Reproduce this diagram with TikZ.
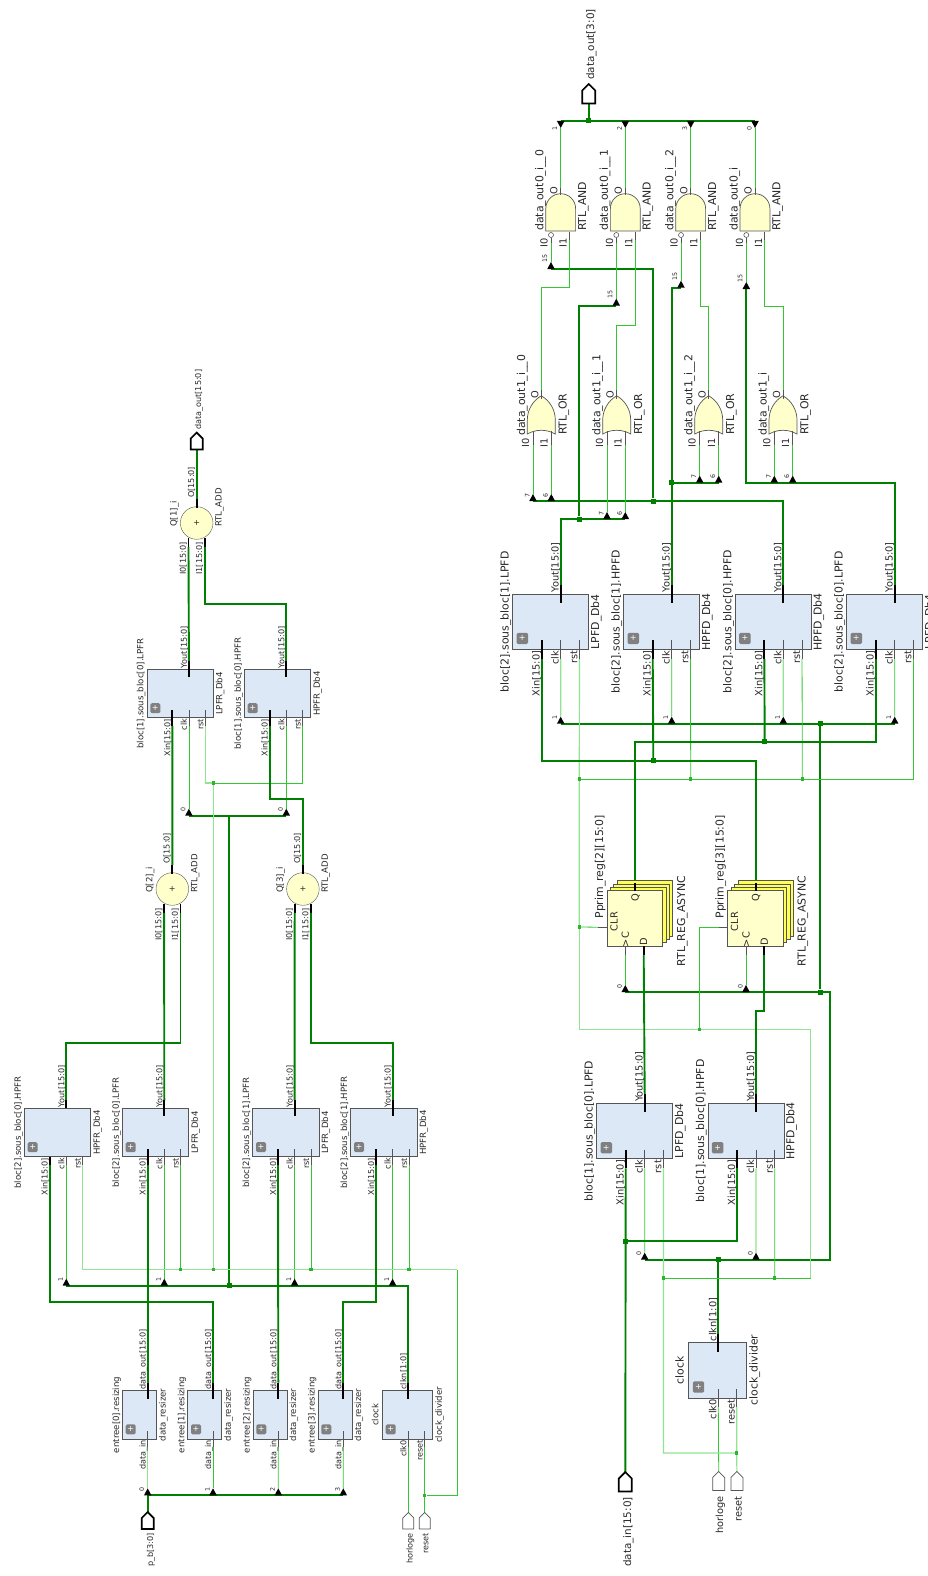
\documentclass[tikz,border=0pt]{standalone}
\usepackage{fontspec}
\setmainfont{DejaVu Sans}
\usetikzlibrary{calc,backgrounds,positioning,shapes,shapes.gates.logic.US}
\definecolor{BusGreen}{RGB}{0,128,0}
\definecolor{NetGreen}{RGB}{50,200,50}
\definecolor{PaleGreen}{RGB}{145,228,145}
\definecolor{BlockBlue}{RGB}{221,232,247}
\definecolor{CellYellow}{RGB}{255,255,204}
\definecolor{StackYellow}{RGB}{255,255,90}
\definecolor{EdgeGray}{RGB}{85,85,85}
\definecolor{TextGray}{RGB}{40,40,40}

\newcommand{\filterblock}[6]{%
	\node [ipblock,minimum width=\sk*66.5,minimum height=\sk*48.5] (#1) at (#2,#3) {};
	\node [plusicon,minimum size=\sk*10] (#1-plus) at ($(#1.south west)+(\sk*8.4,-\sk*9.6)$) {+};
	\coordinate (#1-yout) at ($(#1.north west)+(\sk*42,-\sk*8)$);
	\coordinate (#1-xin) at ($(#1.south west)+(\sk*25.4,\sk*8.4)$);
	\coordinate (#1-clk) at ($(#1.south west)+(\sk*42,\sk*8.4)$);
	\coordinate (#1-rst) at ($(#1.south west)+(\sk*58.4,\sk*8.4)$);
	\draw[busstub] (#1-yout) -- ++(0,{\sk*(8+#6)});
	\draw[busstub] (#1-xin) -- ++(0,{-\sk*(8.4+#6)});
	\draw[netstub] (#1-clk) -- ++(0,{-\sk*(8.4+#6)});
	\draw[netstub] (#1-rst) -- ++(0,{-\sk*(8.4+#6)});
	\node [pinlabel,anchor=base west] (#1-yout-lbl) at ($(#1-yout)+(-2,\sk*7)$) {Yout[15:0]};
	\node [pinlabel,anchor=base east] (#1-xin-lbl) at ($(#1-xin)+(-2,-\sk*7.4)$) {Xin[15:0]};
	\node [pinlabel,anchor=base east] (#1-clk-lbl) at ($(#1-clk)+(-2,-\sk*7.4)$) {clk};
	\node [pinlabel,anchor=base east] (#1-rst-lbl) at ($(#1-rst)+(-2,-\sk*7.4)$) {rst};
	\node [namelabel,anchor=base] (#1-name) at ($(#1.west)+(-\sk*3.5,0)$) {#4};
	\node [namelabel,anchor=base] (#1-type) at ($(#1.east)+(\sk*9,0)$) {#5};
}

\begin{document}
\begin{tikzpicture} [x=1pt,y=-1pt,
	   buswire/.style = {draw=BusGreen,line width=1.9pt},
	   netwire/.style = {draw=NetGreen,line width=0.8pt},
	   palewire/.style = {draw=PaleGreen,line width=1.2pt},
	   busstub/.style = {draw=black,line width=1.9pt},
	   netstub/.style = {draw=EdgeGray,line width=0.8pt},
	   busdot/.style = {rectangle,fill=BusGreen,minimum size=5pt,inner sep=0pt},
	   netdot/.style = {rectangle,fill=NetGreen!90!black,minimum size=3.2pt,inner sep=0pt},
	   ipblock/.style = {rectangle,draw=EdgeGray,fill=BlockBlue,line width=0.8pt,anchor=north west,inner sep=0pt,outer sep=0pt},
	   plusicon/.style = {rectangle,rounded corners=1.5pt,fill=gray,text=white,inner sep=0pt,font=\fontsize{8}{8}\selectfont},
	   pinlabel/.style = {rotate=90,inner sep=0pt,text=TextGray,font=\fontsize{\pinsize}{\pinsize}\selectfont},
	   namelabel/.style = {rotate=90,inner sep=0pt,text=TextGray,font=\fontsize{\namesize}{\namesize}\selectfont},
	   bitlabel/.style = {rotate=90,inner sep=0pt,text=TextGray,font=\fontsize{6.3}{6.3}\selectfont},
	   tapup/.style = {isosceles triangle,shape border rotate=90,isosceles triangle stretches,fill=black,minimum width=7.5pt,minimum height=7pt,inner sep=0pt,outer sep=0pt,anchor=lower side},
	   tapdown/.style = {isosceles triangle,shape border rotate=-90,isosceles triangle stretches,fill=black,minimum width=7.5pt,minimum height=7pt,inner sep=0pt,outer sep=0pt,anchor=lower side},
	   adder/.style = {circle,draw=EdgeGray,fill=CellYellow,minimum size=32.6pt,inner sep=0pt,outer sep=0pt,text=TextGray,font=\fontsize{8}{8}\selectfont},
	   busport/.style = {signal,signal to=north,draw=black,fill=white,line width=1.7pt,minimum width=#1,minimum height=11pt,inner sep=0pt,outer sep=0pt},
	   netport/.style = {signal,signal to=north,draw=EdgeGray,fill=white,line width=0.7pt,minimum width=#1,minimum height=11pt,inner sep=0pt,outer sep=0pt},
	   andcell/.style = {and gate US,logic gate inputs=nn,rotate=90,draw=EdgeGray,fill=CellYellow,line width=0.7pt,minimum height=28pt,minimum width=37.3pt,inner sep=0pt,outer sep=0pt},
	   bubble/.style = {circle,draw=EdgeGray,fill=white,line width=0.6pt,minimum size=5pt,inner sep=0pt,outer sep=0pt},
	   orcell/.style = {or gate US,logic gate inputs=nn,rotate=90,draw=EdgeGray,fill=CellYellow,line width=0.7pt,minimum height=28pt,minimum width=37pt,inner sep=0pt,outer sep=0pt},
	   regcell/.style = {rectangle,draw=EdgeGray,line width=0.7pt,minimum size=55.5pt,anchor=north west,inner sep=0pt,outer sep=0pt}]
	\useasboundingbox (0,0) rectangle (927,1576);

	%% Left picture: labels are smaller here
	\def\sk{1}\def\pinsize{8.1}\def\namesize{8.6}

	%% Filters
	\filterblock{hpfr20}{24.3}{1108.3}{bloc[2].sous\_bloc[0].HPFR}{HPFR\_Db4}{0}
	\filterblock{lpfr20}{122.3}{1108.3}{bloc[2].sous\_bloc[0].LPFR}{LPFR\_Db4}{8}
	\filterblock{lpfr21}{252.6}{1108.3}{bloc[2].sous\_bloc[1].LPFR}{LPFR\_Db4}{8}
	\filterblock{hpfr21}{350.6}{1108.3}{bloc[2].sous\_bloc[1].HPFR}{HPFR\_Db4}{8}
	\filterblock{lpfr10}{146.9}{669.3}{bloc[1].sous\_bloc[0].LPFR}{LPFR\_Db4}{8}
	\filterblock{hpfr10}{244.3}{669.3}{bloc[1].sous\_bloc[0].HPFR}{HPFR\_Db4}{8}

	%% Input resizers
	\foreach \nm/\x/\txt in {entree0/122.3/entree[0].resizing,entree1/187.6/entree[1].resizing,
	                         entree2/252.9/entree[2].resizing,entree3/317.9/entree[3].resizing} {
		\node [ipblock,minimum width=34,minimum height=48.3] (\nm) at (\x,1390.7) {};
		\node [plusicon,minimum size=10] (\nm-plus) at ($(\nm.south west)+(8.4,-9.6)$) {+};
		\coordinate (\nm-out) at ($(\nm.north west)+(25.4,-8)$);
		\coordinate (\nm-in) at ($(\nm.south west)+(25.4,8)$);
		\draw[busstub] (\nm-out) -- ++(0,16);
		\draw[netstub] (\nm-in) -- ++(0,-16);
		\node [pinlabel,anchor=base west] (\nm-out-lbl) at ($(\nm-out)+(-2,7)$) {data\_out[15:0]};
		\node [pinlabel,anchor=base east] (\nm-in-lbl) at ($(\nm-in)+(-2,-7)$) {data\_in};
		\node [namelabel,anchor=base] (\nm-name) at ($(\nm.west)+(-3.2,0)$) {\txt};
		\node [namelabel,anchor=base] (\nm-type) at ($(\nm.east)+(9.2,0)$) {data\_resizer};
	}

	%% Clock divider
	\node [ipblock,minimum width=50.4,minimum height=48.3] (clkl) at (382.3,1390.7) {};
	\node [plusicon,minimum size=10] (clkl-plus) at ($(clkl.south west)+(8.4,-9.6)$) {+};
	\coordinate (clkl-clkn) at ($(clkl.north west)+(26,-8)$);
	\coordinate (clkl-clk0) at ($(clkl.south west)+(26,8)$);
	\coordinate (clkl-reset) at ($(clkl.south west)+(42.4,8)$);
	\draw[busstub] (clkl-clkn) -- ++(0,16);
	\draw[netstub] (clkl-clk0) -- ++(0,-16);
	\draw[netstub] (clkl-reset) -- ++(0,-16);
	\node [pinlabel,anchor=base west] (clkl-clkn-lbl) at ($(clkl-clkn)+(-2,7)$) {clkn[1:0]};
	\node [pinlabel,anchor=base east] (clkl-clk0-lbl) at ($(clkl-clk0)+(-2,-7)$) {clk0};
	\node [pinlabel,anchor=base east] (clkl-reset-lbl) at ($(clkl-reset)+(-2,-7)$) {reset};
	\node [namelabel,anchor=base] (clkl-name) at ($(clkl.west)+(-4,0)$) {clock};
	\node [namelabel,anchor=base] (clkl-type) at ($(clkl.east)+(9.2,0)$) {clock\_divider};

	%% Adders
	\foreach \nm/\x/\y/\txt in {addq2/172.3/889/Q[2]\_i,addq3/302.9/889/Q[3]\_i,addq1/196.7/523/Q[1]\_i} {
		\node [adder] (\nm) at (\x,\y) {+};
		\coordinate (\nm-o) at ($(\nm)+(0,-24)$);
		\coordinate (\nm-i0) at ($(\nm)+(-8.2,24)$);
		\coordinate (\nm-i1) at ($(\nm)+(8.2,24)$);
		\draw[busstub] (\nm-o) -- ++(0,8.5);
		\draw[busstub] (\nm-i0) -- ++(0,-9);
		\draw[busstub] (\nm-i1) -- ++(0,-9);
		\node [pinlabel,anchor=base west] (\nm-o-lbl) at ($(\nm-o)+(-2.7,-1)$) {O[15:0]};
		\node [pinlabel,anchor=base east] (\nm-i0-lbl) at ($(\nm-i0)+(-2.7,-4.7)$) {I0[15:0]};
		\node [pinlabel,anchor=base east] (\nm-i1-lbl) at ($(\nm-i1)+(-2.7,-4.7)$) {I1[15:0]};
		\node [namelabel,anchor=base west] (\nm-name) at ($(\nm)+(-20,4)$) {\txt};
		\node [namelabel,anchor=base west] (\nm-type) at ($(\nm)+(25,4)$) {RTL\_ADD};
	}

	%% Bus taps
	\foreach \nm/\x/\y/\bit in {clkl0/66.3/1285.7/1,clkl1/164.3/1285.7/1,clkl2/294.6/1285.7/1,clkl3/392.6/1285.7/1,
	                            clku0/188.9/815.7/0,clku1/286.3/815.7/0,
	                            sel0/147.7/1495.3/0,sel1/213/1495.3/1,sel2/278.3/1495.3/2,sel3/343.3/1495.3/3} {
		\node [tapup] (\nm) at (\x,\y) {};
		\node [bitlabel,anchor=base] (\nm-bit) at ($(\nm.lower side)+(-3.5,-6)$) {\bit};
	}

	%% Ports
	\node [busport=12pt] (pb) at (147.7,1523.5) {};
	\node [pinlabel,anchor=base east] (pb-lbl) at (153,1533) {p\_b[3:0]};
	\node [netport=11pt] (horlogel) at (408.3,1523.5) {};
	\node [pinlabel,anchor=base east] (horlogel-lbl) at (412.7,1533) {horloge};
	\node [netport=11pt] (resetl) at (424.7,1523.5) {};
	\node [pinlabel,anchor=base east] (resetl-lbl) at (428.3,1533) {reset};
	\node [busport=12pt] (outl) at (196.7,444) {};
	\node [pinlabel,anchor=base west] (outl-lbl) at (201,430) {data\_out[15:0]};

	%% Clock nets
	\node [busdot] (jclkl) at (229.3,1285.7) {};
	\node [netdot] (jrstl) at (424.7,1495.3) {};
	\node [netdot] (drstl1) at (180.7,1269.7) {};
	\node [netdot] (drstl2) at (213.3,1269.7) {};
	\node [netdot] (drstl3) at (311,1269.7) {};
	\node [netdot] (drstl4) at (409,1269.7) {};
	\node [netdot] (drstu) at (213.3,783) {};
	\coordinate (rstlcorner) at (457.3,1269.7);
	\begin{scope}[on background layer]
		\draw[buswire] (clkl-clkn) |- (clkl0.lower side);
		\draw[buswire] (jclkl) |- (clku0.lower side);
		\draw[buswire] (jclkl) |- (clku1.lower side);
		\draw[netwire] (clkl0.apex) -- (hpfr20-clk);
		\draw[netwire] (clkl1.apex) -- (lpfr20-clk);
		\draw[netwire] (clkl2.apex) -- (lpfr21-clk);
		\draw[netwire] (clkl3.apex) -- (hpfr21-clk);
		\draw[netwire] (clku0.apex) -- (lpfr10-clk);
		\draw[netwire] (clku1.apex) -- (hpfr10-clk);
		\draw[netwire] (horlogel.north) -- (clkl-clk0);

		%% Reset nets
		\draw[palewire] (hpfr20-rst) |- (rstlcorner);
		\draw[netwire] (rstlcorner) |- (jrstl);
		\draw[netwire] (resetl.north) -- (jrstl) -- (clkl-reset);
		\draw[netwire] (lpfr20-rst) -- (drstl1);
		\draw[netwire] (lpfr21-rst) -- (drstl3);
		\draw[netwire] (hpfr21-rst) -- (drstl4);
		\draw[palewire] (drstl2) -- (drstu);
		\draw[palewire] (lpfr10-rst) |- (drstu);
		\draw[netwire] (drstu) -| (hpfr10-rst);

		%% Data nets
		\draw[buswire] (pb.north) -- (sel0.lower side) -- (sel3.lower side);
		\draw[palewire] (sel0.apex) -- (entree0-in);
		\draw[netwire] (sel1.apex) -- (entree1-in);
		\draw[netwire] (sel2.apex) -- (entree2-in);
		\draw[netwire] (sel3.apex) -- (entree3-in);
		\draw[buswire] (entree0-out) -- (lpfr20-xin);
		\draw[buswire] (entree2-out) -- (lpfr21-xin);
		\draw[buswire] (hpfr20-xin) -- (hpfr20-xin |- 0,1301.7) -| (entree1-out);
		\draw[buswire] (hpfr21-xin) -- (hpfr21-xin |- 0,1301.7) -| (entree3-out);
		\draw[buswire] (lpfr20-yout) -- (addq2-i0);
		\draw[buswire] (lpfr21-yout) -- (addq3-i0);
		\draw[buswire] (hpfr20-yout) -- (hpfr20-yout |- 0,1043.3) -| (addq2-i1);
		\draw[buswire] (hpfr21-yout) -- (hpfr21-yout |- 0,1043.3) -| (addq3-i1);
		\draw[buswire] (addq2-o) -- (lpfr10-xin);
		\draw[buswire] (hpfr10-xin) -- (hpfr10-xin |- 0,799.3) -| (addq3-o);
		\draw[buswire] (lpfr10-yout) -- (addq1-i0);
		\draw[buswire] (hpfr10-yout) -- (hpfr10-yout |- 0,604.3) -| (addq1-i1);
		\draw[buswire] (addq1-o) -- (outl.south);
	\end{scope}

	%% Right picture: labels are larger here
	\def\sk{1.143}\def\pinsize{9.8}\def\namesize{10.9}

	%% Filters
	\filterblock{lpfd21}{512.7}{594}{bloc[2].sous\_bloc[1].LPFD}{LPFD\_Db4}{8}
	\filterblock{hpfd21}{623.7}{594}{bloc[2].sous\_bloc[1].HPFD}{HPFD\_Db4}{8}
	\filterblock{hpfd20}{735.3}{594}{bloc[2].sous\_bloc[0].HPFD}{HPFD\_Db4}{8}
	\filterblock{lpfd20}{846.7}{594}{bloc[2].sous\_bloc[0].LPFD}{LPFD\_Db4}{8}
	\filterblock{lpfd10}{596.7}{1103.3}{bloc[1].sous\_bloc[0].LPFD}{LPFD\_Db4}{8}
	\filterblock{hpfd10}{708}{1103.3}{bloc[1].sous\_bloc[0].HPFD}{HPFD\_Db4}{8}

	%% Clock divider
	\node [ipblock,minimum width=58,minimum height=55.7] (clkr) at (688.7,1342.3) {};
	\node [plusicon,minimum size=11.4] (clkr-plus) at ($(clkr.south west)+(9.8,-11)$) {+};
	\coordinate (clkr-clkn) at ($(clkr.north west)+(29.6,-8.5)$);
	\coordinate (clkr-clk0) at ($(clkr.south west)+(29.6,9)$);
	\coordinate (clkr-reset) at ($(clkr.south west)+(48,9)$);
	\draw[busstub] (clkr-clkn) -- ++(0,18);
	\draw[netstub] (clkr-clk0) -- ++(0,-18);
	\draw[netstub] (clkr-reset) -- ++(0,-18);
	\node [pinlabel,anchor=base west] (clkr-clkn-lbl) at ($(clkr-clkn)+(-2,7.5)$) {clkn[1:0]};
	\node [pinlabel,anchor=base east] (clkr-clk0-lbl) at ($(clkr-clk0)+(-2,-8)$) {clk0};
	\node [pinlabel,anchor=base east] (clkr-reset-lbl) at ($(clkr-reset)+(-2,-8)$) {reset};
	\node [namelabel,anchor=base] (clkr-name) at ($(clkr.west)+(-5,0)$) {clock};
	\node [namelabel,anchor=base] (clkr-type) at ($(clkr.east)+(11,0)$) {clock\_divider};

	%% Registers
	\foreach \nm/\x/\txt in {ffq2/607/Pprim\_reg[2][15:0],ffq3/727.7/Pprim\_reg[3][15:0]} {
		\foreach \i in {3,2,1} {
			\node [regcell,fill=StackYellow] (\nm-back\i) at ($(\x,890.7)+(3.4*\i,-3.4*\i)$) {};
		}
		\node [regcell,fill=CellYellow] (\nm) at (\x,890.7) {};
		\coordinate (\nm-q) at ($(\nm.north west)+(28,-8)$);
		\coordinate (\nm-d) at ($(\nm.south west)+(36.7,9)$);
		\coordinate (\nm-c) at ($(\nm.south west)+(18.3,9)$);
		\coordinate (\nm-clr) at ($(\nm.south west)+(-9,-19)$);
		\draw[busstub] (\nm-q) -- ++(0,8);
		\draw[busstub] (\nm-d) -- ++(0,-9);
		\draw[netstub] (\nm-c) -- ++(0,-9);
		\draw[netstub] (\nm-clr) -- ++(9,0);
		\node [pinlabel,anchor=base] (\nm-q-lbl) at ($(\nm-q)+(3.5,14.5)$) {Q};
		\node [pinlabel,anchor=base] (\nm-d-lbl) at ($(\nm-d)+(3.5,-13.5)$) {D};
		\node [pinlabel,anchor=base] (\nm-c-lbl) at ($(\nm-c)+(3.5,-20)$) {C};
		\node [pinlabel,anchor=base] (\nm-ck-lbl) at ($(\nm-c)+(3.5,-12)$) {>};
		\node [pinlabel,anchor=base] (\nm-clr-lbl) at ($(\nm-clr)+(19.5,-5.5)$) {CLR};
		\node [namelabel,anchor=base west] (\nm-name) at ($(\nm.south west)+(-4,-27.5)$) {\txt};
		\node [namelabel,anchor=base west] (\nm-type) at ($(\nm.south west)+(78,20)$) {RTL\_REG\_ASYNC};
	}

	%% Or gates
	\foreach \nm/\x/\txt/\ileft/\iright in {or0/541.3/data\_out1\_i\_\_0/533/551.3,or1/616.7/data\_out1\_i\_\_1/607/625.3,
	                                        or2/708.7/data\_out1\_i\_\_2/699.7/718.7,or3/783/data\_out1\_i/774.3/792.7} {
		\node [orcell] (\nm) at (\x,417.7) {};
		\coordinate (\nm-o) at (\x,390);
		\coordinate (\nm-i0) at (\ileft,445);
		\coordinate (\nm-i1) at (\iright,445);
		\draw[netstub] (\nm-o) -- ++(0,9.3);
		\draw[netstub] (\nm-i0) -- ++(0,-14);
		\draw[netstub] (\nm-i1) -- ++(0,-14);
		\node [pinlabel,anchor=base west] (\nm-o-lbl) at (\x-3,399) {O};
		\node [pinlabel,anchor=base east] (\nm-i0-lbl) at (\ileft-4,438) {I0};
		\node [pinlabel,anchor=base east] (\nm-i1-lbl) at (\iright-3.6,438) {I1};
		\node [namelabel,anchor=base west] (\nm-name) at (\x-16.3,436) {\txt};
		\node [namelabel,anchor=base west] (\nm-type) at (\x+25.4,435) {RTL\_OR};
	}

	%% And gates
	\foreach \nm/\x/\txt/\ileft/\iright in {and0/560.7/data\_out0\_i\_\_0/551/569.3,and1/625.3/data\_out0\_i\_\_1/616.3/635,
	                                         and2/690.7/data\_out0\_i\_\_2/681/700,and3/755/data\_out0\_i/746.3/764.7} {
		\node [andcell] (\nm) at (\x,213.6) {};
		\node [bubble] (\nm-bubble) at (\ileft,235) {};
		\coordinate (\nm-o) at (\x,188);
		\coordinate (\nm-i0) at (\ileft,243);
		\coordinate (\nm-i1) at (\iright,240);
		\draw[netstub] (\nm-o) -- ++(0,7);
		\draw[netstub] (\nm-i0) -- ++(0,-5.5);
		\draw[netstub] (\nm-i1) -- ++(0,-7.7);
		\node [pinlabel,anchor=base west] (\nm-o-lbl) at (\x-3.4,195) {O};
		\node [pinlabel,anchor=base east] (\nm-i0-lbl) at (\ileft-3.3,238) {I0};
		\node [pinlabel,anchor=base east] (\nm-i1-lbl) at (\iright-2.7,238.5) {I1};
		\node [namelabel,anchor=base west] (\nm-name) at (\x-17.4,231) {\txt};
		\node [namelabel,anchor=base west] (\nm-type) at (\x+25.3,231) {RTL\_AND};
	}

	%% Bus taps
	\foreach \nm/\x/\y/\bit in {clkb0/644.7/1259.7/0,clkb1/756/1259.7/0,clkf0/625.3/992/0,clkf1/746/992/0,
	                            clkt0/560.7/723.7/1,clkt1/671.7/723.7/1,clkt2/783.3/723.7/1,clkt3/894.7/723.7/1,
	                            ora0/533/501/7,orb0/551.3/501/6,ora1/607/519/7,orb1/625.3/519/6,
	                            ora2/699.7/482.7/7,orb2/718.7/482.7/6,ora3/774.3/482.7/7,orb3/792.7/482.7/6} {
		\node [tapup] (\nm) at (\x,\y) {};
		\node [bitlabel,anchor=base] (\nm-bit) at ($(\nm.lower side)+(-3.5,-6)$) {\bit};
	}
	\foreach \nm/\x/\y in {anda0/551/269,anda1/616.3/305.7,anda2/681/287.7,anda3/746.3/289} {
		\node [tapup] (\nm) at (\x,\y) {};
		\node [bitlabel,anchor=base] (\nm-bit) at ($(\nm.lower side)+(-4,-11)$) {15};
	}
	\foreach \nm/\x/\bit in {top0/560.7/1,top1/625.3/2,top2/690.7/3,top3/755/0} {
		\node [tapdown] (\nm) at (\x,121) {};
		\node [bitlabel,anchor=base] (\nm-bit) at ($(\nm.lower side)+(-3.5,7.5)$) {\bit};
	}

	%% Ports
	\node [busport=13pt,minimum height=13pt] (datain) at (625.3,1485) {};
	\node [pinlabel,anchor=base east,font=\fontsize{10.4}{10.4}\selectfont] (datain-lbl) at (631,1497) {data\_in[15:0]};
	\node [netport=12pt,minimum height=13pt] (horloger) at (718.7,1484) {};
	\node [pinlabel,anchor=base east] (horloger-lbl) at (723,1496) {horloge};
	\node [netport=12pt,minimum height=13pt] (resetr) at (736.9,1484) {};
	\node [pinlabel,anchor=base east] (resetr-lbl) at (741.5,1496) {reset};
	\node [busport=13pt,minimum height=13pt] (outr) at (588.7,97) {};
	\node [pinlabel,anchor=base west,font=\fontsize{10.4}{10.4}\selectfont] (outr-lbl) at (594,80) {data\_out[3:0]};

	%% Clock nets
	\coordinate (clkcorner) at (830,1100);
	\node [busdot] (jclkb) at (718.3,1259.7) {};
	\node [busdot] (jclkf) at (820.3,992) {};
	\node [busdot] (jclkt) at (820.3,723.7) {};
	\coordinate (rstcorner) at (810.7,1029.3);
	\node [netdot] (drst0) at (579.3,779) {};
	\node [netdot] (drst1) at (690.7,779) {};
	\node [netdot] (drst2) at (802.3,779) {};
	\node [netdot] (dclr2) at (579.3,927) {};
	\node [netdot] (dclr3) at (699.3,1029.3) {};
	\node [netdot] (drstb0) at (663.4,1278) {};
	\node [netdot] (drstb1) at (774.7,1278) {};
	\node [netdot] (jrstr) at (736.7,1453) {};
	\node [busdot] (jdata) at (625.7,1241.3) {};
	\node [busdot] (jxin3) at (764.7,741.7) {};
	\node [busdot] (jxin1) at (653.3,760.7) {};
	\node [busdot] (jy1) at (579,519) {};
	\node [busdot] (jy3) at (653.3,501) {};
	\node [busdot] (jy2) at (671.7,482.7) {};
	\node [busdot] (jout) at (588.7,121) {};
	\begin{scope}[on background layer]
		\draw[buswire] (clkb0.lower side) -| (clkcorner) |- (clkf0.lower side);
		\draw[buswire] (clkr-clkn) -- (jclkb);
		\draw[buswire] (jclkf) -- (jclkt);
		\draw[buswire] (clkt0.lower side) -- (clkt3.lower side);
		\draw[netwire] (clkb0.apex) -- (lpfd10-clk);
		\draw[netwire] (clkb1.apex) -- (hpfd10-clk);
		\draw[netwire] (clkf0.apex) -- (ffq2-c);
		\draw[netwire] (clkf1.apex) -- (ffq3-c);
		\draw[palewire] (clkt0.apex) -- (lpfd21-clk);
		\draw[netwire] (clkt1.apex) -- (hpfd21-clk);
		\draw[palewire] (clkt2.apex) -- (hpfd20-clk);
		\draw[netwire] (clkt3.apex) -- (lpfd20-clk);
		\draw[netwire] (horloger.north) -- (clkr-clk0);

		%% Reset nets
		\draw[palewire] (lpfd21-rst) -- (drst0) -- (dclr2);
		\draw[netwire] (drst0) -| (lpfd20-rst);
		\draw[netwire] (drst1) -- (hpfd21-rst);
		\draw[netwire] (drst2) -- (hpfd20-rst);
		\draw[netwire] (dclr2) -- (ffq2-clr);
		\draw[palewire] (dclr2) |- (rstcorner);
		\draw[netwire] (dclr3) |- (ffq3-clr);
		\draw[palewire] (rstcorner) -- (rstcorner |- drstb0);
		\draw[netwire] (rstcorner |- drstb0) -- (drstb0);
		\draw[palewire] (lpfd10-rst) -- (drstb0) |- (jrstr);
		\draw[netwire] (drstb1) -- (hpfd10-rst);
		\draw[palewire] (resetr.north) -- (jrstr) -- (clkr-reset);

		%% Data nets
		\draw[buswire] (datain.north) -- (lpfd10-xin);
		\draw[buswire] (jdata) -| (hpfd10-xin);
		\draw[buswire] (ffq2-d) -- (lpfd10-yout);
		\draw[buswire] (ffq3-d) -- (ffq3-d |- 0,1010.7) -| (hpfd10-yout);
		\draw[buswire] (ffq2-q) |- (lpfd20-xin |- jxin3) -- (lpfd20-xin);
		\draw[buswire] (jxin3) -- (hpfd20-xin);
		\draw[buswire] (ffq3-q) |- (lpfd21-xin |- jxin1) -- (lpfd21-xin);
		\draw[buswire] (jxin1) -- (hpfd21-xin);

		%% Filter outputs
		\draw[buswire] (lpfd21-yout) |- (orb1.lower side);
		\draw[buswire] (jy1) |- (anda1.lower side);
		\draw[buswire] (hpfd20-yout) |- (ora0.lower side);
		\draw[buswire] (jy3) |- (anda0.lower side);
		\draw[buswire] (hpfd21-yout) |- (anda2.lower side);
		\draw[buswire] (jy2) -- (orb2.lower side);
		\draw[buswire] (lpfd20-yout) |- (ora3.lower side) -| (anda3.lower side);

		%% Gate nets
		\foreach \i in {0,1,2,3} {
			\draw[netwire] (anda\i.apex) -- (and\i-i0);
			\draw[netwire] (ora\i.apex) -- (or\i-i0);
			\draw[netwire] (orb\i.apex) -- (or\i-i1);
			\draw[netwire] (top\i.apex) -- (and\i-o);
		}
		\draw[netwire] (and0-i1) -- (and0-i1 |- 0,287.7) -| (or0-o);
		\draw[netwire] (and1-i1) -- (and1-i1 |- 0,325) -| (or1-o);
		\draw[netwire] (and2-i1) -- (and2-i1 |- 0,306) -| (or2-o);
		\draw[netwire] (and3-i1) -- (and3-i1 |- 0,306) -| (or3-o);
		\draw[buswire] (top0.lower side) -- (top3.lower side);
		\draw[buswire] (outr.south) -- (jout);
	\end{scope}
\end{tikzpicture}
\end{document}
